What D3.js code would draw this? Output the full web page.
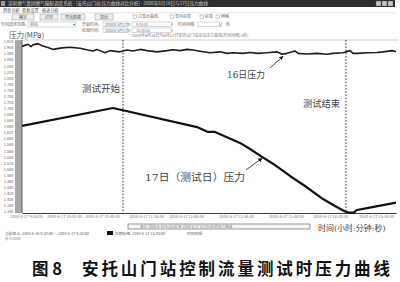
<!DOCTYPE html>
<html>
<head>
<meta charset="utf-8">
<script src="https://cdn.jsdelivr.net/npm/d3@7"></script>
<style>
  html, body { margin: 0; padding: 0; background: #fff; }
  svg { display: block; }
</style>
</head>
<body>
<svg id="chart" width="400" height="282"></svg>
<script>
// ---- data -------------------------------------------------------------
// minutes after 9:20:00, pressure in MPa
const minutes16 = [0, 6, 9, 11, 16, 20, 26, 31, 40, 48, 58, 66, 71, 75, 78, 83, 88, 98, 105, 111,
  118, 125, 135, 145, 151, 158, 165, 171, 178, 188, 198, 205, 211, 221, 228, 236, 245, 255, 260,
  265, 273, 276, 285, 295, 305, 311, 321, 328, 331, 336, 345, 355, 361, 370, 374];
const pressure16 = [1.904, 1.911, 1.903, 1.909, 1.913, 1.906, 1.900, 1.894, 1.899, 1.901, 1.898,
  1.892, 1.889, 1.894, 1.890, 1.883, 1.890, 1.886, 1.892, 1.889, 1.894, 1.890, 1.886, 1.890,
  1.893, 1.890, 1.894, 1.892, 1.888, 1.883, 1.886, 1.881, 1.883, 1.881, 1.884, 1.881, 1.883,
  1.886, 1.878, 1.881, 1.889, 1.881, 1.879, 1.881, 1.878, 1.881, 1.883, 1.890, 1.881, 1.881,
  1.883, 1.884, 1.886, 1.890, 1.886];

const minutes17 = [0, 91, 175, 186, 193, 218, 228, 240, 253, 268, 283, 301, 313, 323, 328, 332,
  335, 345, 374];
const pressure17 = [1.642, 1.701, 1.638, 1.622, 1.622, 1.586, 1.566, 1.540, 1.513, 1.477, 1.444,
  1.401, 1.378, 1.360, 1.356, 1.357, 1.365, 1.371, 1.389];

const testStartMinute = 101;
const testEndMinute = 324;
const arrow16Minute = 260;
const arrow17Minute = 240;

const yTickValues = [1.92, 1.90, 1.88, 1.86, 1.84, 1.82, 1.80, 1.78, 1.76, 1.74, 1.72, 1.70,
  1.68, 1.66, 1.64, 1.62, 1.60, 1.58, 1.56, 1.54, 1.52, 1.50, 1.48, 1.46, 1.44, 1.42, 1.40,
  1.38, 1.36];
const xTickMinutes = [4, 42, 80, 124, 164, 214, 264, 308, 354];
const xTickLabels = ["2008-6-17 9:24:00", "2008-6-17 10:02:00", "2008-6-17 10:40:00",
  "2008-6-17 11:24:00", "2008-6-17 12:04:00", "2008-6-17 12:54:00", "2008-6-17 13:44:00",
  "2008-6-17 14:28:00", "2008-6-17 15:14:00"];

// ---- layout -----------------------------------------------------------
const svg = d3.select("#chart");
const plot = { left: 22, right: 396, top: 40, bottom: 213 };
const x = d3.scaleLinear().domain([0, 374]).range([plot.left, plot.right]);
const y = d3.scaleLinear().domain([1.355, 1.925]).range([plot.bottom, plot.top]);

const uiFont = "'Noto Sans CJK SC', 'Noto Sans', sans-serif";
const tiny = (g, tx, ty, str, size, fill, anchor) =>
  g.append("text").attr("x", tx).attr("y", ty).text(str)
    .attr("font-family", uiFont).attr("font-size", size)
    .attr("fill", fill || "#666").attr("text-anchor", anchor || "start");

// ---- window chrome ------------------------------------------------------
const ui = svg.append("g");
ui.append("rect").attr("x", 0).attr("y", 0).attr("width", 395).attr("height", 7).attr("fill", "#2e2e2e");
ui.append("rect").attr("x", 1).attr("y", 1).attr("width", 4).attr("height", 5).attr("fill", "#9a9a9a");
tiny(ui, 8, 5.2, "深圳燃气集团燃气输配调度系统 - [安托山门站 压力曲线对比分析] - 2008年6月16日与17日压力曲线", 4.6, "#cfcfcf");
[376, 382, 388].forEach(bx =>
  ui.append("rect").attr("x", bx).attr("y", 1).attr("width", 5).attr("height", 5)
    .attr("fill", "#c8c8c8").attr("stroke", "#555").attr("stroke-width", 0.4));

// menu tabs
tiny(ui, 3, 11.5, "趋势分析", 4.2, "#555");
tiny(ui, 22, 11.5, "参数设置", 4.2, "#555");
tiny(ui, 42, 11.5, "报表分析", 4.2, "#555");
ui.append("line").attr("x1", 0).attr("x2", 395).attr("y1", 12.8).attr("y2", 12.8)
  .attr("stroke", "#cfcfcf").attr("stroke-width", 0.5);

// buttons
[[12, 22, "确定"], [40, 18, "打印"], [61, 24, "导出数据"], [95, 18, "退出"]].forEach(([bx, bw, t]) => {
  ui.append("rect").attr("x", bx).attr("y", 14).attr("width", bw).attr("height", 6)
    .attr("fill", "#eeeeee").attr("stroke", "#9a9a9a").attr("stroke-width", 0.5);
  tiny(ui, bx + bw / 2, 18.6, t, 4, "#555", "middle");
});
// check boxes
[[133, "只显示曲线"], [170, "显示标签"], [200, "标签"], [216, "网格"]].forEach(([cx, t]) => {
  ui.append("rect").attr("x", cx).attr("y", 15).attr("width", 3.5).attr("height", 3.5)
    .attr("fill", "#fff").attr("stroke", "#777").attr("stroke-width", 0.4);
  tiny(ui, cx + 5, 18.4, t, 4, "#666");
});

// time selection rows
tiny(ui, 1, 25.8, "时间选择范围:", 4, "#666");
ui.append("rect").attr("x", 28).attr("y", 22).attr("width", 48).attr("height", 5)
  .attr("fill", "#fff").attr("stroke", "#999").attr("stroke-width", 0.4);
tiny(ui, 30, 25.8, "前后", 4, "#777");
tiny(ui, 73, 25.8, "▾", 4, "#666");
[[22, "开始时间:", "9:20:00"], [28, "结束时间:", "15:30:00"]].forEach(([ry, lbl, tm]) => {
  tiny(ui, 82, ry + 3.8, lbl, 4, "#666");
  ui.append("rect").attr("x", 103).attr("y", ry).attr("width", 25).attr("height", 4.6)
    .attr("fill", "#fff").attr("stroke", "#999").attr("stroke-width", 0.4);
  tiny(ui, 105, ry + 3.6, "2008年 6月17日", 3.6, "#777");
  ui.append("rect").attr("x", 132).attr("y", ry).attr("width", 40).attr("height", 4.6)
    .attr("fill", "#fff").attr("stroke", "#999").attr("stroke-width", 0.4);
  tiny(ui, 136, ry + 3.6, tm, 3.6, "#777");
  tiny(ui, 170, ry + 3.6, "÷", 3.6, "#666");
});
tiny(ui, 178, 25.8, "时间间隔:", 4, "#666");
ui.append("rect").attr("x", 198).attr("y", 22).attr("width", 24).attr("height", 4.6)
  .attr("fill", "#fff").attr("stroke", "#999").attr("stroke-width", 0.4);
tiny(ui, 219, 25.6, "5", 3.6, "#666");
tiny(ui, 226, 25.8, "秒", 4, "#666");

// panel headings
tiny(ui, 9, 37.6, "压力(MPa)", 7.6, "#555");
tiny(ui, 132, 36.6, "2008年6月16日与6月17日安托山门站出站压力曲线(时间间隔:5秒)", 4, "#777");

// ---- plot frame -----------------------------------------------------------
const frame = svg.append("g");
frame.append("rect").attr("x", 15).attr("y", plot.top).attr("width", plot.left - 15)
  .attr("height", plot.bottom - plot.top).attr("fill", "#a8a8a8");
frame.append("line").attr("x1", plot.left).attr("x2", plot.right + 2)
  .attr("y1", plot.top).attr("y2", plot.top).attr("stroke", "#b5b5b5").attr("stroke-width", 0.6);

// y axis labels
const yAxis = d3.axisLeft(y).tickValues(yTickValues).tickFormat(d3.format(".3f"))
  .tickSize(0).tickPadding(1.5);
const gy = frame.append("g").attr("transform", `translate(15,0)`).call(yAxis);
gy.select(".domain").remove();
gy.selectAll("text").attr("font-size", 3.9).attr("fill", "#666").attr("font-family", uiFont);

// x axis
const xAxis = d3.axisBottom(x).tickValues(xTickMinutes)
  .tickFormat((d, i) => xTickLabels[i]).tickSize(0).tickPadding(2.5);
const gx = frame.append("g").attr("transform", `translate(0,${plot.bottom})`).call(xAxis);
gx.select(".domain").attr("stroke", "#3a3a3a").attr("stroke-width", 1.2);
gx.selectAll("text").attr("font-size", 4).attr("fill", "#777").attr("font-family", uiFont);
frame.append("line").attr("x1", plot.left).attr("x2", plot.left)
  .attr("y1", plot.top).attr("y2", plot.bottom).attr("stroke", "#444").attr("stroke-width", 0.8);

// test start / end markers
[testStartMinute, testEndMinute].forEach(m =>
  frame.append("line").attr("x1", x(m)).attr("x2", x(m))
    .attr("y1", plot.top).attr("y2", plot.bottom)
    .attr("stroke", "#333").attr("stroke-width", 1).attr("stroke-dasharray", "1.6,1.6"));

// ---- series -------------------------------------------------------------
const line = d3.line().x(d => x(d[0])).y(d => y(d[1]));
svg.append("path").datum(d3.zip(minutes16, pressure16))
  .attr("d", line).attr("fill", "none").attr("stroke", "#1e1e1e")
  .attr("stroke-width", 1.6).attr("stroke-linejoin", "round");
svg.append("path").datum(d3.zip(minutes17, pressure17))
  .attr("d", line).attr("fill", "none").attr("stroke", "#111")
  .attr("stroke-width", 2.2).attr("stroke-linejoin", "round");

// ---- annotations ----------------------------------------------------------
const defs = svg.append("defs");
defs.append("marker").attr("id", "head").attr("viewBox", "0 0 10 10")
  .attr("refX", 9).attr("refY", 5).attr("markerWidth", 5).attr("markerHeight", 5)
  .attr("orient", "auto").append("path").attr("d", "M0,0L10,5L0,10Z").attr("fill", "#111");

const annFont = "'DejaVu Serif', 'Noto Sans CJK SC', serif";
const ann = (tx, ty, str, len, size) => {
  const t = svg.append("text").attr("x", tx).attr("y", ty).text(str)
    .attr("font-family", annFont).attr("font-size", size).attr("font-weight", 400)
    .attr("fill", "#444");
  if (len) t.attr("textLength", len).attr("lengthAdjust", "spacingAndGlyphs");
  return t;
};

ann(82, 92, "测试开始", 38, 9.5);
ann(303, 107, "测试结束", 37, 9.5);
ann(227, 78, "16日压力", 38, 9.5);
ann(145, 181, "17日（测试日）压力", 100, 10);
ann(318, 231, "时间(小时:分钟:秒)", null, 8);

// pointer arrows to the two curves
const i16 = minutes16.indexOf(arrow16Minute);
const tip16 = [x(minutes16[i16]) + 1, y(pressure16[i16]) + 2];
svg.append("line").attr("x1", 270).attr("y1", 68).attr("x2", tip16[0]).attr("y2", tip16[1])
  .attr("stroke", "#111").attr("stroke-width", 0.8).attr("marker-end", "url(#head)");
const tip17 = [x(arrow17Minute), y(pressure17[minutes17.indexOf(arrow17Minute)]) + 1.5];
svg.append("line").attr("x1", 246).attr("y1", 170).attr("x2", tip17[0]).attr("y2", tip17[1])
  .attr("stroke", "#111").attr("stroke-width", 0.8).attr("marker-end", "url(#head)");

// ---- status bar -----------------------------------------------------------
const sb = svg.append("g");
sb.append("rect").attr("x", 128).attr("y", 224).attr("width", 182).attr("height", 5)
  .attr("fill", "#f6f6f6").attr("stroke", "#555").attr("stroke-width", 0.6);
tiny(sb, 140, 227.8, "显示 2008-6-16 9:20:00 至 2008-6-17 15:30:00 的压力曲线", 3.6, "#777");
tiny(sb, 5, 234.5, "当前显示: 2008-6-16 9:20:00 — 2008-6-17 9:20:00", 3.8, "#666");
sb.append("rect").attr("x", 107).attr("y", 231).attr("width", 6).attr("height", 4).attr("fill", "#111");
tiny(sb, 115, 234.5, "日期标签: 2008-6-17 15:30:00", 3.8, "#666");
tiny(sb, 187, 234.5, "时间间隔", 3.8, "#666");
tiny(sb, 5, 240, "秒 0.0000", 3.6, "#888");

// ---- caption --------------------------------------------------------------
const cap = svg.append("g").attr("font-family", uiFont).attr("font-weight", 700)
  .attr("font-size", 16.5).attr("fill", "#111");
cap.append("text").attr("x", 32).attr("y", 274.5).text("图 8");
cap.append("text").attr("x", 82).attr("y", 274.5).text("安托山门站控制流量测试时压力曲线")
  .attr("textLength", 308).attr("lengthAdjust", "spacing");
</script>
</body>
</html>
